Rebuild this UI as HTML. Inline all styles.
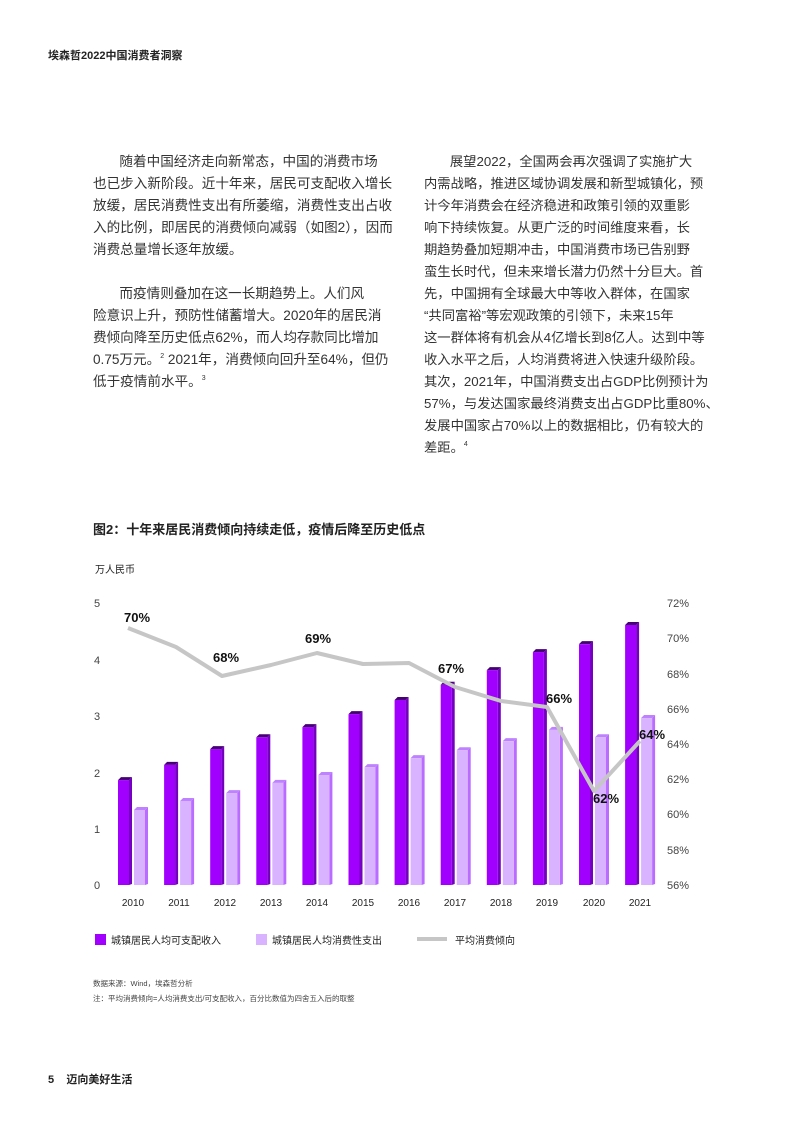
<!DOCTYPE html>
<html><head><meta charset="utf-8"><style>
body{margin:0;background:#fff;}
.pg{position:relative;width:793px;height:1122px;overflow:hidden;font-family:"Liberation Sans","Noto Sans CJK SC",sans-serif;color:#222;}
.t{position:absolute;white-space:nowrap;}
.p{font-size:13.6px;color:#333;line-height:22px;}
sup{font-size:7px;line-height:0;vertical-align:0;position:relative;top:-6px;}
</style></head><body><div class="pg">
<div class="t" style="left:48px;top:47px;font-size:11px;font-weight:bold;">埃森哲2022中国消费者洞察</div>

<div class="t p" style="left:93px;top:151px;">&nbsp;&nbsp;&nbsp;&nbsp;&nbsp;&nbsp;&nbsp;随着中国经济走向新常态，中国的消费市场<br>也已步入新阶段。近十年来，居民可支配收入增长<br>放缓，居民消费性支出有所萎缩，消费性支出占收<br>入的比例，即居民的消费倾向减弱（如图2），因而<br>消费总量增长逐年放缓。</div>
<div class="t p" style="left:93px;top:283px;">&nbsp;&nbsp;&nbsp;&nbsp;&nbsp;&nbsp;&nbsp;而疫情则叠加在这一长期趋势上。人们风<br>险意识上升，预防性储蓄增大。2020年的居民消<br>费倾向降至历史低点62%，而人均存款同比增加<br>0.75万元。<sup>2</sup> 2021年，消费倾向回升至64%，但仍<br>低于疫情前水平。<sup>3</sup></div>

<div class="t p" style="left:424px;top:151px;font-size:13.3px;">&nbsp;&nbsp;&nbsp;&nbsp;&nbsp;&nbsp;&nbsp;展望2022，全国两会再次强调了实施扩大<br>内需战略，推进区域协调发展和新型城镇化，预<br>计今年消费会在经济稳进和政策引领的双重影<br>响下持续恢复。从更广泛的时间维度来看，长<br>期趋势叠加短期冲击，中国消费市场已告别野<br>蛮生长时代，但未来增长潜力仍然十分巨大。首<br>先，中国拥有全球最大中等收入群体，在国家<br>“共同富裕”等宏观政策的引领下，未来15年<br>这一群体将有机会从4亿增长到8亿人。达到中等<br>收入水平之后，人均消费将进入快速升级阶段。<br>其次，2021年，中国消费支出占GDP比例预计为<br>57%，与发达国家最终消费支出占GDP比重80%、<br>发展中国家占70%以上的数据相比，仍有较大的<br>差距。<sup>4</sup></div>

<div class="t" style="left:93px;top:519px;font-size:13px;font-weight:bold;">图2：十年来居民消费倾向持续走低，疫情后降至历史低点</div>
<div class="t" style="left:95px;top:561px;font-size:10px;">万人民币</div>

<svg class="t" style="left:0;top:0" width="793" height="1122" font-family="Liberation Sans, Noto Sans CJK SC, sans-serif">
<g font-size="11" fill="#444">
<text x="97" y="607" text-anchor="middle">5</text>
<text x="97" y="664" text-anchor="middle">4</text>
<text x="97" y="720" text-anchor="middle">3</text>
<text x="97" y="777" text-anchor="middle">2</text>
<text x="97" y="833" text-anchor="middle">1</text>
<text x="97" y="889" text-anchor="middle">0</text>
<g text-anchor="start">
<text x="667" y="607">72%</text><text x="667" y="642">70%</text><text x="667" y="678">68%</text><text x="667" y="713">66%</text><text x="667" y="748">64%</text><text x="667" y="783">62%</text><text x="667" y="818">60%</text><text x="667" y="854">58%</text><text x="667" y="889">56%</text>
</g></g>
<g id="bars"></g>
<polyline fill="none" stroke="#c6c6c6" stroke-width="4" stroke-linejoin="round" points="128,628 176,647 222,676 271,665 317,653 363,664 409,663 455,687 501,701 547,707 594,791 640,741"/>
<g font-size="13" font-weight="bold" fill="#111" text-anchor="middle">
<text x="137" y="622">70%</text><text x="226" y="662">68%</text><text x="318" y="643">69%</text><text x="451" y="673">67%</text><text x="559" y="703">66%</text><text x="606" y="803">62%</text><text x="652" y="739">64%</text>
</g>
<g font-size="10" fill="#222" text-anchor="middle">
<text x="133" y="906">2010</text><text x="179" y="906">2011</text><text x="225" y="906">2012</text><text x="271" y="906">2013</text><text x="317" y="906">2014</text><text x="363" y="906">2015</text><text x="409" y="906">2016</text><text x="455" y="906">2017</text><text x="501" y="906">2018</text><text x="547" y="906">2019</text><text x="594" y="906">2020</text><text x="640" y="906">2021</text>
</g>
<rect x="95" y="934" width="11" height="11" fill="#a100ff"/>
<text x="111" y="944" font-size="10" fill="#222">城镇居民人均可支配收入</text>
<rect x="256" y="934" width="11" height="11" fill="#d9b3ff"/>
<text x="272" y="944" font-size="10" fill="#222">城镇居民人均消费性支出</text>
<line x1="417" y1="939" x2="447" y2="939" stroke="#c6c6c6" stroke-width="4"/>
<text x="455" y="944" font-size="10" fill="#222">平均消费倾向</text>
</svg>
<div class="t" style="left:93px;top:978px;font-size:7.5px;color:#444;">数据来源：Wind，埃森哲分析</div>
<div class="t" style="left:93px;top:993px;font-size:7.5px;color:#444;">注：平均消费倾向=人均消费支出/可支配收入，百分比数值为四舍五入后的取整</div>
<div class="t" style="left:48px;top:1071px;font-size:11px;font-weight:bold;">5&nbsp;&nbsp;&nbsp;&nbsp;迈向美好生活</div>
<script>
var d=[1.86,2.13,2.41,2.62,2.8,3.03,3.28,3.55,3.81,4.13,4.27,4.61],l=[1.33,1.49,1.63,1.81,1.95,2.09,2.25,2.39,2.55,2.75,2.62,2.96];
var s='',B=885,u=56.4;
function bar(x,v,f,sd,tp){var y=B-v*u;return '<polygon points="'+(x+11)+','+y+' '+(x+14)+','+(y-3)+' '+(x+14)+','+(B-1)+' '+(x+11)+','+B+'" fill="'+sd+'"/><polygon points="'+x+','+y+' '+(x+3)+','+(y-3)+' '+(x+14)+','+(y-3)+' '+(x+11)+','+y+'" fill="'+tp+'"/><rect x="'+x+'" y="'+y+'" width="11" height="'+(B-y)+'" fill="'+f+'"/>';}
for(var i=0;i<12;i++){var c=133+i*46.1;
s+=bar(c-15,d[i],'#a100ff','#7500c0','#460073');
s+=bar(c+1,l[i],'#d9b3ff','#b96cff','#be82ff');}
document.getElementById('bars').innerHTML=s;
</script>
</div></body></html>
